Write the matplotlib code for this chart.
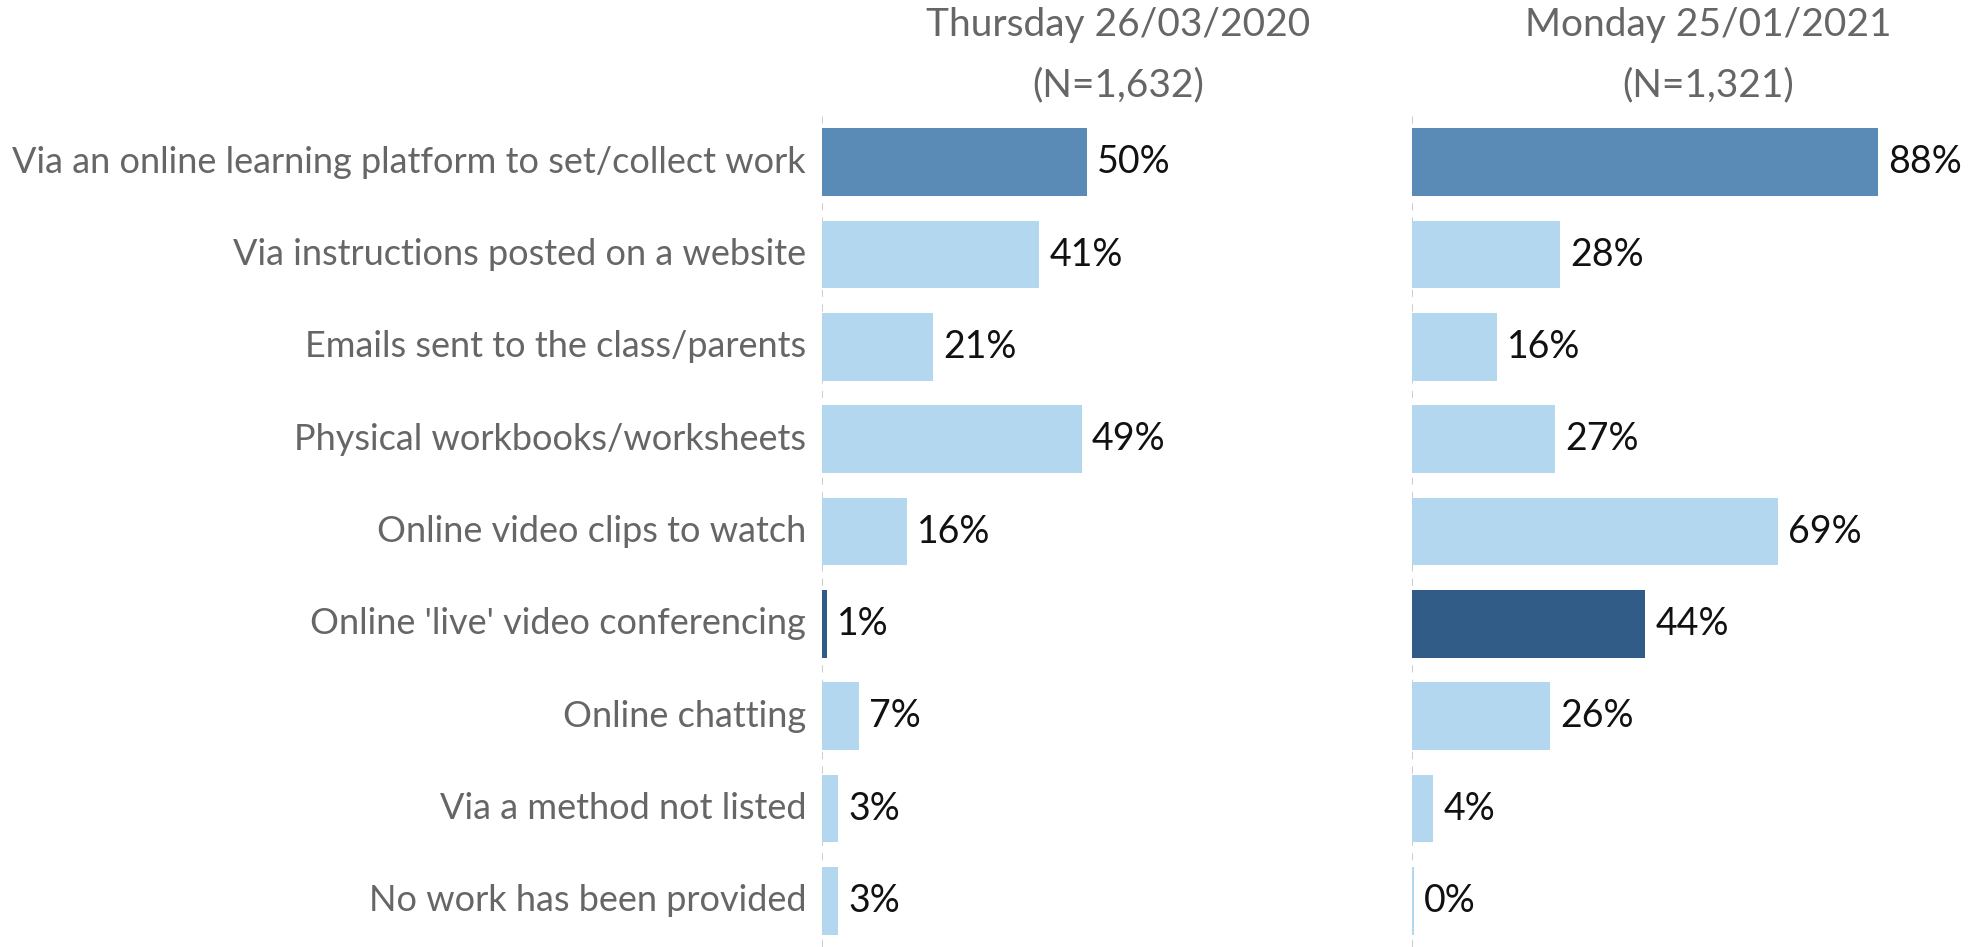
import matplotlib.pyplot as plt

categories = ['Via an online learning platform to set/collect work',
              'Via instructions posted on a website',
              'Emails sent to the class/parents',
              'Physical workbooks/worksheets',
              'Online video clips to watch',
              "Online 'live' video conferencing",
              'Online chatting',
              'Via a method not listed',
              'No work has been provided']
values_2020 = [50, 41, 21, 49, 16, 1, 7, 3, 3]
values_2021 = [88, 28, 16, 27, 69, 44, 26, 4, 0.4]
titles = ['Thursday 26/03/2020\n(N=1,632)', 'Monday 25/01/2021\n(N=1,321)']

mid_blue = '#5A8BB7'
dark_blue = '#315C88'
light_blue = '#B3D7EE'
bar_colors = [mid_blue, light_blue, light_blue, light_blue, light_blue,
              dark_blue, light_blue, light_blue, light_blue]

plt.rcParams['font.family'] = ['Lato', 'DejaVu Sans']

fig = plt.figure(figsize=(19.87, 9.47), dpi=100)
ax1 = fig.add_axes([822 / 1987, 0, 0.28, 0.8775])
ax2 = fig.add_axes([1412 / 1987, 0, 0.28, 0.8775])

for ax, vals, title, cx in [(ax1, values_2020, titles[0], 1118 / 1987),
                            (ax2, values_2021, titles[1], 1708 / 1987)]:
    ypos = range(len(categories))
    ax.barh(ypos, vals, height=0.735, color=bar_colors)
    for y, v in zip(ypos, vals):
        ax.text(v + 1.9, y, f'{v:.0f}%', va='center', ha='left',
                fontsize=27, color='#111111')
    ax.axvline(0, color='#c8c8c8', linestyle=(0, (4, 4)), linewidth=1.3, zorder=0)
    ax.set_xlim(0, 105)
    ax.set_ylim(8.5, -0.5)
    ax.set_xticks([])
    ax.set_yticks([])
    for s in ax.spines.values():
        s.set_visible(False)
    head, sub = title.split('\n')
    fig.text(cx, 0.9736, head, ha='center', va='center',
             fontsize=28, color='#666666')
    fig.text(cx, 0.910, sub, ha='center', va='center',
             fontsize=28, color='#666666')

for y, c in enumerate(categories):
    ax1.text(-3, y, c, ha='right', va='center', fontsize=26, color='#666666')

fig.savefig('out.png', dpi=100)
